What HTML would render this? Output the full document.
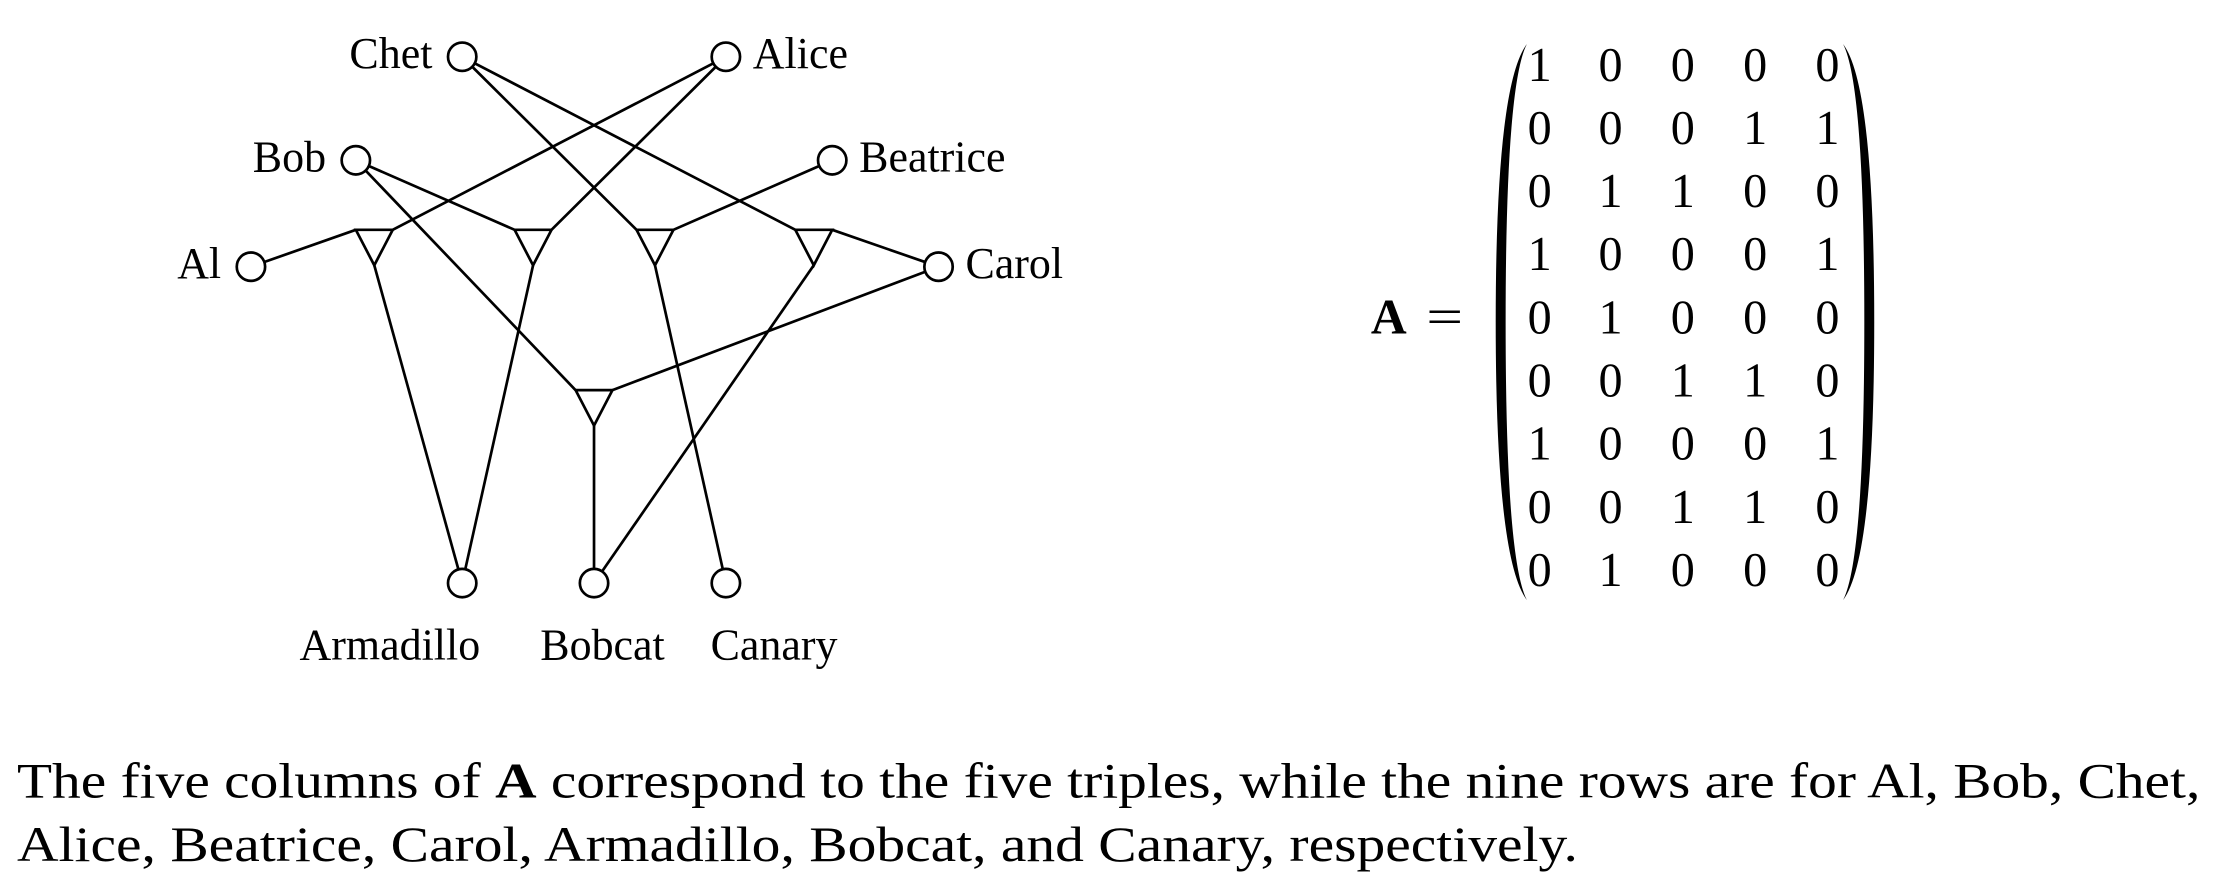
<!DOCTYPE html>
<html><head><meta charset="utf-8"><style>
html,body{margin:0;padding:0;background:#fff;}
svg{display:block;}
text{font-family:"Liberation Serif",serif;fill:#000;}
</style></head><body>
<svg id="fig" width="2223" height="881" viewBox="0 0 1568 621" preserveAspectRatio="none" xmlns="http://www.w3.org/2000/svg">
<g id="graph" stroke="#000" stroke-width="1.9" fill="none"></g>
<g id="labels" font-size="31"></g>
<g id="matrix"></g>
<text x="967" y="235" font-size="35" font-weight="bold">A</text>
<text x="1006" y="235" font-size="36" textLength="26" lengthAdjust="spacingAndGlyphs">=</text>
<path d="M1077,31 Q1055,60 1055,227 Q1055,394 1077,423 Q1062,394 1062,227 Q1062,60 1077,31Z" fill="#000"/>
<path d="M1300,31 Q1322,60 1322,227 Q1322,394 1300,423 Q1315,394 1315,227 Q1315,60 1300,31Z" fill="#000"/>
<text x="12" y="562" font-size="35" textLength="1540" lengthAdjust="spacingAndGlyphs">The five columns of <tspan font-weight="bold">A</tspan> correspond to the five triples, while the nine rows are for Al, Bob, Chet,</text>
<text x="12" y="607" font-size="35" textLength="1101" lengthAdjust="spacingAndGlyphs">Alice, Beatrice, Carol, Armadillo, Bobcat, and Canary, respectively.</text>
</svg>
<script>
const nodeNames = ["Al","Bob","Chet","Alice","Beatrice","Carol","Armadillo","Bobcat","Canary"];
const nodeX = [177,251,326,512,587,662,326,419,512];
const nodeY = [188,113,40,40,113,188,411,411,411];
const tripleX = [264,376,462,574,419];
const tripleY = [162,162,162,162,275];
// each triple: [left-input node, right-input node, output node]
const tripleLeft = [0,1,2,2,1];
const tripleRight = [3,3,4,5,5];
const tripleOut = [6,6,8,7,7];
const matrixRows = [
 [1,0,0,0,0],[0,0,0,1,1],[0,1,1,0,0],[1,0,0,0,1],[0,1,0,0,0],
 [0,0,1,1,0],[1,0,0,0,1],[0,0,1,1,0],[0,1,0,0,0]];

const NS="http://www.w3.org/2000/svg";
const g=document.getElementById('graph'), lg=document.getElementById('labels'), mg=document.getElementById('matrix');
const R=10, HW=13, TH=25;
function mk(t,a,p){const e=document.createElementNS(NS,t);for(const k in a)e.setAttribute(k,a[k]);p.appendChild(e);return e;}
function edgeFromNode(n,x2,y2,name){
  const x1=nodeX[n],y1=nodeY[n],dx=x2-x1,dy=y2-y1,L=Math.hypot(dx,dy);
  const l=mk('line',{x1:x1+dx/L*R,y1:y1+dy/L*R,x2:x2,y2:y2},g);
  
  
}
for(let t=0;t<tripleX.length;t++){
  const x=tripleX[t],y=tripleY[t];
  const p=mk('path',{d:`M${x-HW},${y} L${x+HW},${y} L${x},${y+TH} Z`},g);
  
  
  edgeFromNode(tripleLeft[t],x-HW,y,'edge-left-'+(t+1));
  edgeFromNode(tripleRight[t],x+HW,y,'edge-right-'+(t+1));
  edgeFromNode(tripleOut[t],x,y+TH,'edge-out-'+(t+1));
}
const labelSide=["left","left","left","right","right","right","below","below","below"];
const belowX=[275,425,546];
for(let i=0;i<nodeNames.length;i++){
  const c=mk('circle',{cx:nodeX[i],cy:nodeY[i],r:R,fill:'#fff'},g);
  
  
  let a;
  if(labelSide[i]==='left') a={x:nodeX[i]-21,y:nodeY[i]+8,'text-anchor':'end'};
  else if(labelSide[i]==='right') a={x:nodeX[i]+19,y:nodeY[i]+8};
  else a={x:belowX[i-6],y:465,'text-anchor':'middle'};
  const tx=mk('text',a,lg); tx.textContent=nodeNames[i];
  
  
}
const colX=[1086,1136,1187,1238,1289];
for(let r=0;r<matrixRows.length;r++){
  for(let c=0;c<5;c++){
    const tx=mk('text',{x:colX[c],y:57+r*44.5,'font-size':34,'text-anchor':'middle'},mg);
    tx.textContent=String(matrixRows[r][c]);
    
    
  }
}
</script>
</body></html>
